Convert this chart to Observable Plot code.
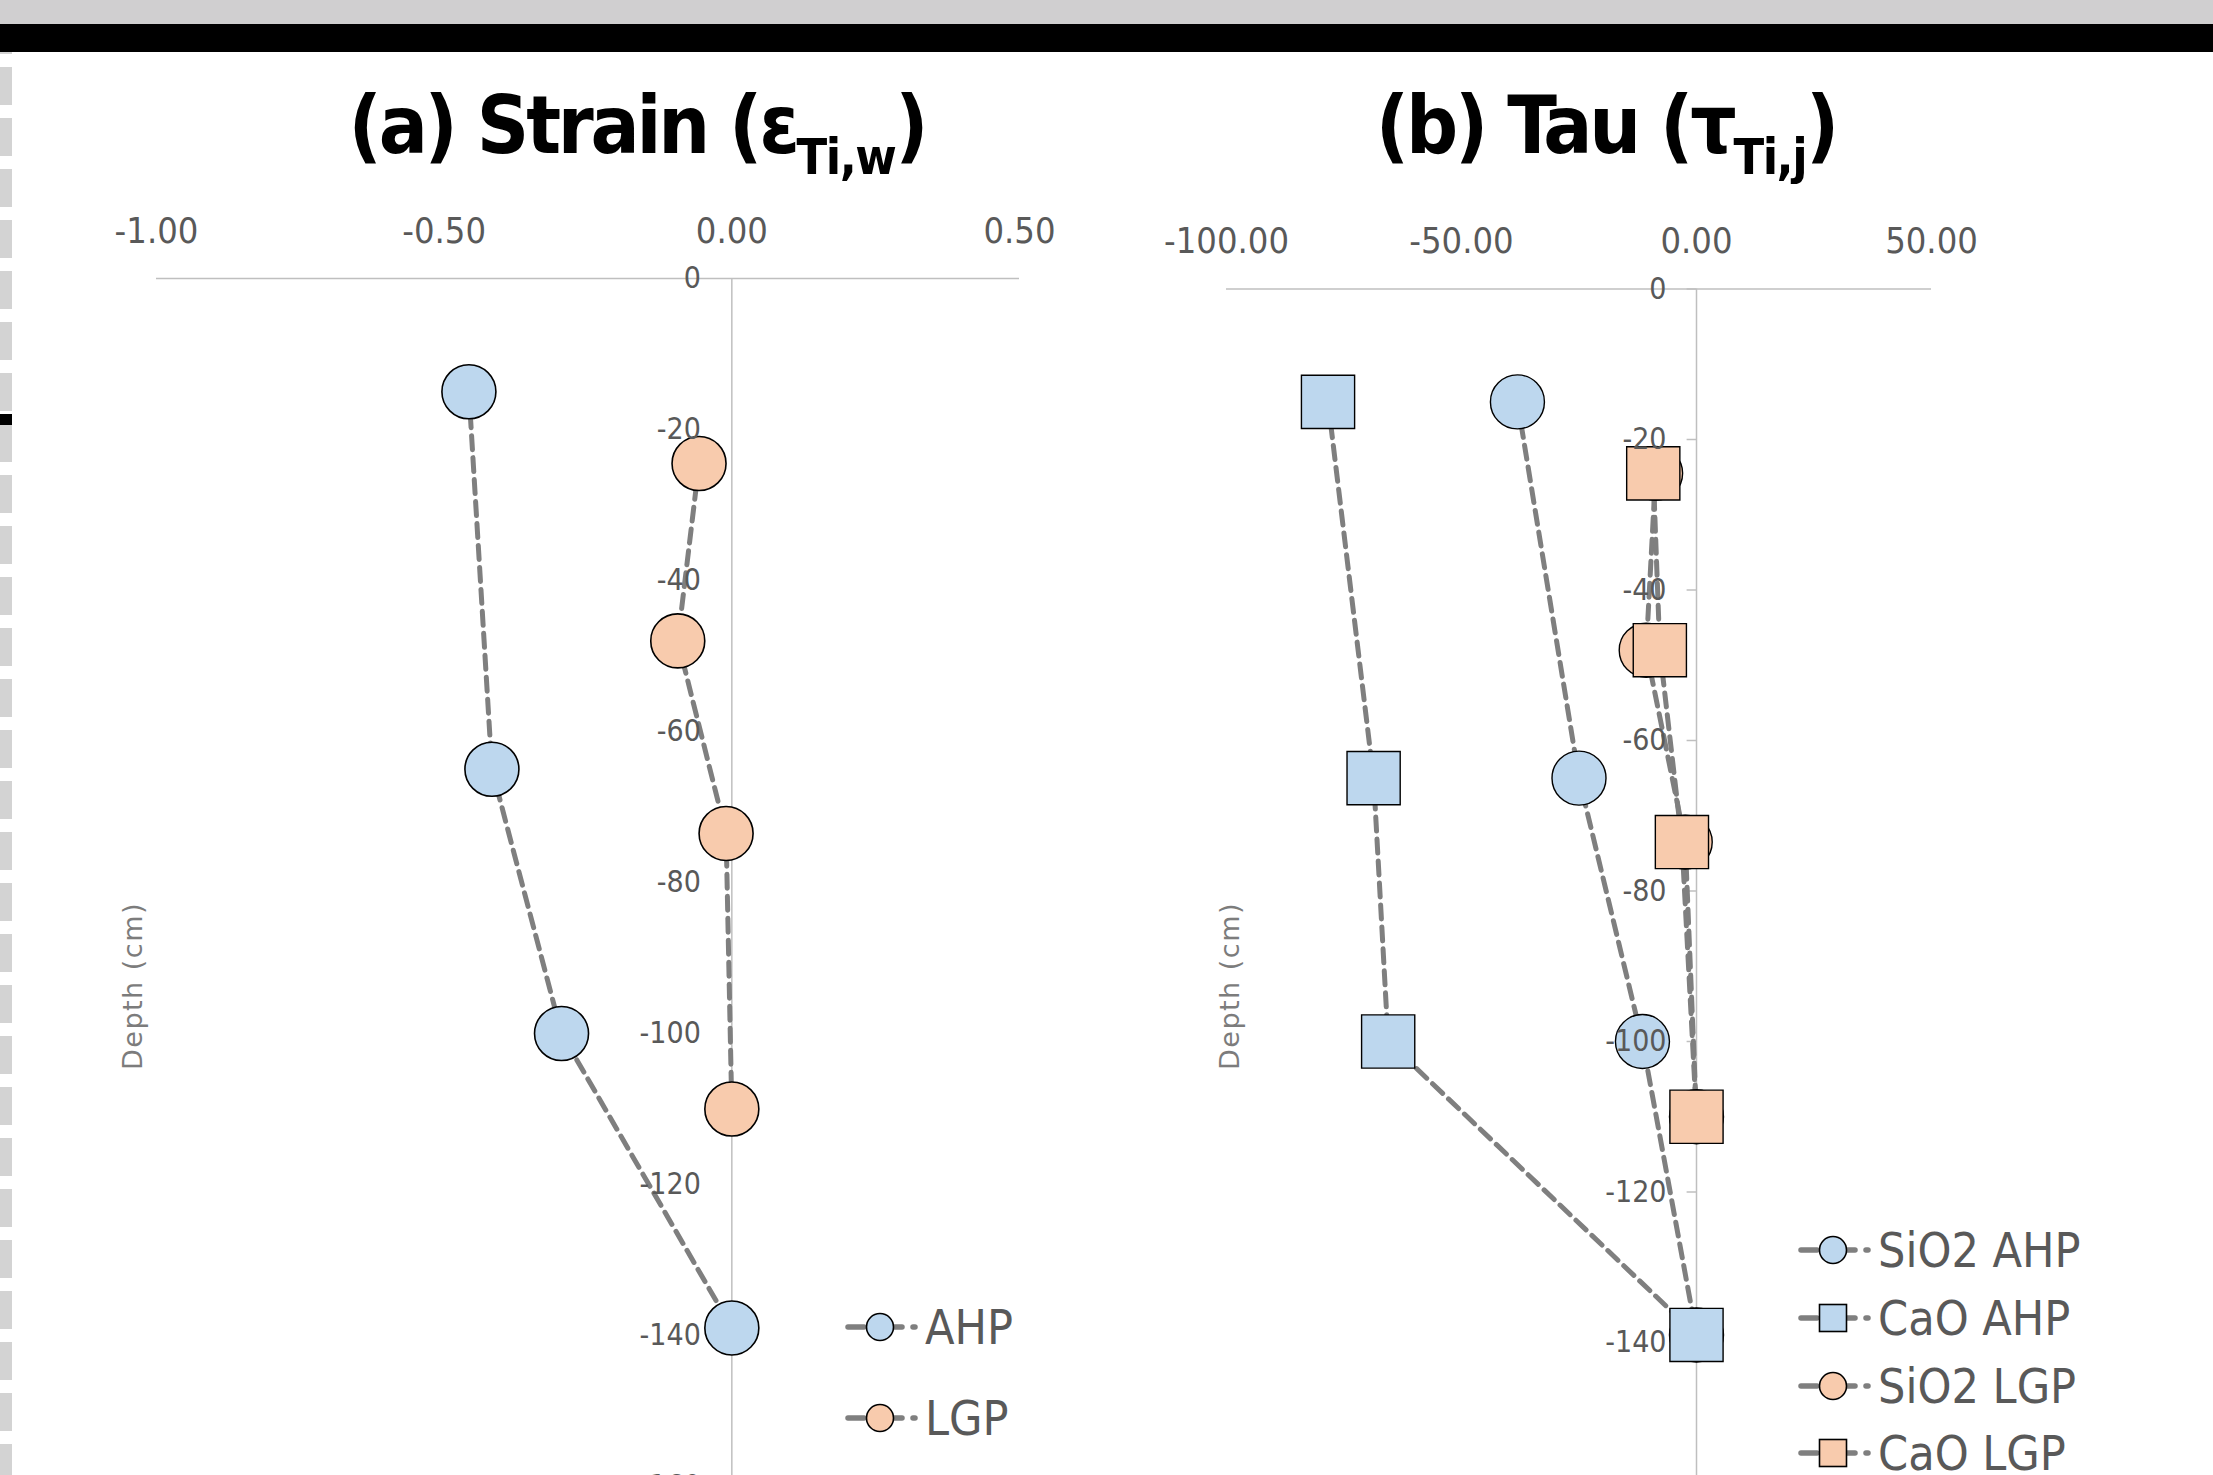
<!DOCTYPE html>
<html>
<head>
<meta charset="utf-8">
<script src="https://cdn.jsdelivr.net/npm/d3@7"></script>
<script src="https://cdn.jsdelivr.net/npm/@observablehq/plot@0.6"></script>
<style>
html, body { margin: 0; padding: 0; background: #fff; }
body { width: 2213px; height: 1475px; overflow: hidden; position: relative; font-family: "DejaVu Sans Condensed", "DejaVu Sans", sans-serif; }
#topgray { position: absolute; left: 0; top: 0; width: 2213px; height: 24px; background: #d0cfd0; }
#topblack { position: absolute; left: 0; top: 24px; width: 2213px; height: 28px; background: #000; }
#leftdash { position: absolute; left: 0; top: 52px; width: 12px; height: 1423px;
  background: repeating-linear-gradient(to bottom, #d3d3d3 0px, #d3d3d3 2px, transparent 2px, transparent 15px, #d3d3d3 15px, #d3d3d3 51px); }
#leftmark { position: absolute; left: 0; top: 414px; width: 12px; height: 11px; background: #000; }
.panel { position: absolute; top: 0; }
.title { position: absolute; top: 85px; font-family: "DejaVu Sans Condensed", sans-serif; font-weight: bold; font-size: 81px; line-height: 81px; color: #000; text-align: center; white-space: nowrap; letter-spacing: -3.2px; }
.title sub { font-size: 50px; vertical-align: baseline; position: relative; top: 21px; letter-spacing: -1.5px; }
.ytitle { position: absolute; transform: translate(-50%, -50%) rotate(-90deg); font-family: "DejaVu Sans", sans-serif; font-size: 27px; letter-spacing: 1.5px; color: #7c7c7c; white-space: nowrap; }
.leg { position: absolute; display: flex; align-items: center; height: 60px; font-family: "DejaVu Sans Condensed", sans-serif; font-size: 48px; color: #595959; white-space: nowrap; }
.leg svg { display: block; margin-right: 4px; }
</style>
</head>
<body>
<div id="topgray"></div>
<div id="topblack"></div>
<div id="leftdash"></div>
<div id="leftmark"></div>
<div id="panelA" class="panel" style="left:0px;width:1100px;"></div>
<div id="panelB" class="panel" style="left:1100px;width:1113px;"></div>
<div class="title" style="left:337px;width:600px;">(a) Strain (ε<sub>Ti,w</sub>)</div>
<div class="title" style="left:1306px;width:600px;">(b) Tau (τ<sub>Ti,j</sub>)</div>
<div class="ytitle" style="left:132px;top:986px;">Depth (cm)</div>
<div class="ytitle" style="left:1229px;top:986px;">Depth (cm)</div>
<div id="legends"></div>
<script>
// ---------- data ----------
const depthAHP = [-15, -65, -100, -139];
const depthLGP = [-24.5, -48, -73.5, -110];

// (a) Strain
const strainAHP = [-0.457, -0.417, -0.296, 0.0];
const strainLGP = [-0.057, -0.094, -0.010, 0.0];

// (b) Tau
const tauSiO2AHP = [-38.1, -25.0, -11.5, 0.0];
const tauCaOAHP  = [-78.4, -68.7, -65.6, 0.0];
const tauSiO2LGP = [-8.7, -10.7, -2.4, 0.0];
const tauCaOLGP  = [-9.2, -7.8, -3.1, 0.0];

// ticks
const xTicksA = [-1.0, -0.5, 0.0, 0.5];
const xTicksB = [-100, -50, 0, 50];
const yTicks = [0, -20, -40, -60, -80, -100, -120, -140, -160];

const seriesA = ["AHP", "LGP"];
const seriesB = ["SiO2 AHP", "CaO AHP", "SiO2 LGP", "CaO LGP"];

const blue = "#bdd7ee", orange = "#f8cbad";
const lineGray = "#7f7f7f", axisGray = "#bfbfbf", textGray = "#595959";
const condFont = "'DejaVu Sans Condensed', 'DejaVu Sans', sans-serif";

// ---------- tables ----------
const rowsA = [
  ...depthAHP.map((d, i) => ({series: "AHP", depth: d, value: strainAHP[i]})),
  ...depthLGP.map((d, i) => ({series: "LGP", depth: d, value: strainLGP[i]}))
];
const rowsB = [
  ...depthAHP.map((d, i) => ({series: "SiO2 AHP", shape: "circle", depth: d, value: tauSiO2AHP[i]})),
  ...depthAHP.map((d, i) => ({series: "CaO AHP", shape: "square", depth: d, value: tauCaOAHP[i]})),
  ...depthLGP.map((d, i) => ({series: "SiO2 LGP", shape: "circle", depth: d, value: tauSiO2LGP[i]})),
  ...depthLGP.map((d, i) => ({series: "CaO LGP", shape: "square", depth: d, value: tauCaOLGP[i]}))
];

const common = {
  style: {background: "transparent", overflow: "visible", fontFamily: condFont, color: textGray}
};
const dash = {stroke: lineGray, strokeWidth: 5, strokeDasharray: "14,8"};

// ---------- panel (a) ----------
const plotA = Plot.plot({
  ...common,
  width: 1100, height: 1520,
  marginLeft: 156, marginRight: 81, marginTop: 278, marginBottom: 34,
  x: {domain: [-1, 0.5], axis: null},
  y: {domain: [-160, 0], axis: null},
  color: {domain: seriesA, range: [blue, orange]},
  marks: [
    Plot.ruleY([0], {stroke: axisGray, strokeWidth: 1.5}),
    Plot.ruleX([0], {stroke: axisGray, strokeWidth: 1.5}),
    Plot.axisX({anchor: "top", ticks: xTicksA, tickFormat: d => d.toFixed(2), tickSize: 0, tickPadding: 36, fontSize: 36, fill: textGray, label: null}),
    Plot.line(rowsA, {x: "value", y: "depth", z: "series", ...dash}),
    Plot.dot(rowsA, {x: "value", y: "depth", fill: "series", r: 27, stroke: "#000", strokeWidth: 1.6}),
    Plot.text(yTicks, {x: 0, y: d => d, text: d => String(d), textAnchor: "end", dx: -31, fontSize: 30, fill: textGray})
  ]
});
document.getElementById("panelA").appendChild(plotA);

// ---------- panel (b) ----------
const plotB = Plot.plot({
  ...common,
  width: 1113, height: 1520,
  marginLeft: 126, marginRight: 282, marginTop: 288.5, marginBottom: 27.5,
  x: {domain: [-100, 50], axis: null},
  y: {domain: [-160, 0], axis: null},
  color: {domain: seriesB, range: [blue, blue, orange, orange]},
  marks: [
    Plot.ruleY([0], {stroke: axisGray, strokeWidth: 1.5}),
    Plot.ruleX([0], {stroke: axisGray, strokeWidth: 1.5}),
    Plot.ruleY(yTicks, {y: d => d, x1: -2, x2: 0, stroke: axisGray, strokeWidth: 1.5}),
    Plot.axisX({anchor: "top", ticks: xTicksB, tickFormat: d => d.toFixed(2), tickSize: 0, tickPadding: 36, fontSize: 36, fill: textGray, label: null}),
    Plot.line(rowsB, {x: "value", y: "depth", z: "series", ...dash}),
    Plot.dot(rowsB.filter(d => d.shape === "circle"), {x: "value", y: "depth", fill: "series", r: 27, stroke: "#000", strokeWidth: 1.4}),
    Plot.dot(rowsB.filter(d => d.shape === "square"), {x: "value", y: "depth", fill: "series", symbol: "square", r: 30, stroke: "#000", strokeWidth: 1.4}),
    Plot.text(yTicks, {x: 0, y: d => d, text: d => String(d), textAnchor: "end", dx: -30, fontSize: 30, fill: textGray})
  ]
});
document.getElementById("panelB").appendChild(plotB);

// ---------- legends ----------
function swatch(shape, fill) {
  const ns = "http://www.w3.org/2000/svg";
  const svg = document.createElementNS(ns, "svg");
  svg.setAttribute("width", 76); svg.setAttribute("height", 40);
  const seg = (x1, x2) => {
    const l = document.createElementNS(ns, "line");
    l.setAttribute("x1", x1); l.setAttribute("x2", x2);
    l.setAttribute("y1", 20); l.setAttribute("y2", 20);
    l.setAttribute("stroke", lineGray); l.setAttribute("stroke-width", 5.5);
    l.setAttribute("stroke-linecap", "round");
    svg.appendChild(l);
  };
  seg(3, 19); seg(40, 57); seg(68, 70);
  let m;
  if (shape === "circle") {
    m = document.createElementNS(ns, "circle");
    m.setAttribute("cx", 35); m.setAttribute("cy", 20); m.setAttribute("r", 13.5);
  } else {
    m = document.createElementNS(ns, "rect");
    m.setAttribute("x", 21.5); m.setAttribute("y", 6.5); m.setAttribute("width", 27); m.setAttribute("height", 27);
  }
  m.setAttribute("fill", fill); m.setAttribute("stroke", "#000"); m.setAttribute("stroke-width", 1.6);
  svg.appendChild(m);
  return svg;
}
const legendItems = [
  {label: "AHP", shape: "circle", fill: blue, left: 845, cy: 1327},
  {label: "LGP", shape: "circle", fill: orange, left: 845, cy: 1418},
  {label: "SiO2 AHP", shape: "circle", fill: blue, left: 1798, cy: 1250},
  {label: "CaO AHP", shape: "square", fill: blue, left: 1798, cy: 1317.5},
  {label: "SiO2 LGP", shape: "circle", fill: orange, left: 1798, cy: 1386},
  {label: "CaO LGP", shape: "square", fill: orange, left: 1798, cy: 1453}
];
const legRoot = document.getElementById("legends");
for (const it of legendItems) {
  const div = document.createElement("div");
  div.className = "leg";
  div.style.left = it.left + "px";
  div.style.top = (it.cy - 30) + "px";
  div.appendChild(swatch(it.shape, it.fill));
  const span = document.createElement("span");
  span.textContent = it.label;
  div.appendChild(span);
  legRoot.appendChild(div);
}
</script>
</body>
</html>
